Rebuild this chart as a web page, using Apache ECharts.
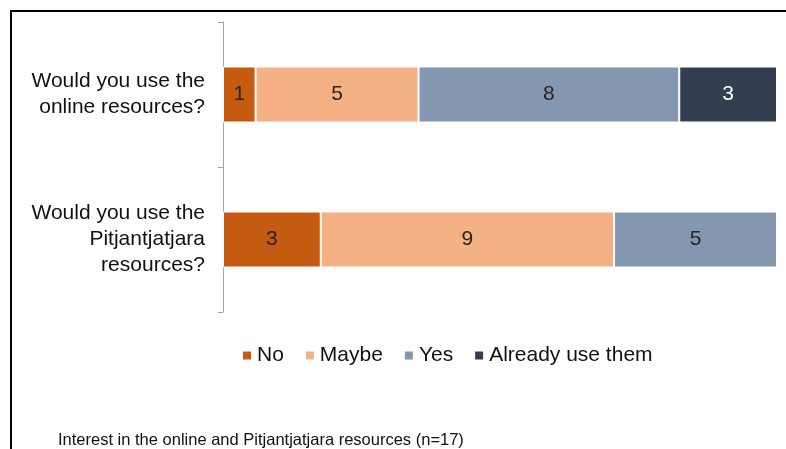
<!DOCTYPE html>
<html>
<head>
<meta charset="utf-8">
<script src="https://cdn.jsdelivr.net/npm/echarts@6/dist/echarts.min.js"></script>
<style>
    html, body {margin: 0; padding: 0; background: #fff;}
    #chart {width: 786px; height: 449px;}
    .frame {position: absolute; left: 10px; top: 10px; right: 0; bottom: 0;
        border-top: 2px solid #000; border-left: 2px solid #000; pointer-events: none;}
</style>
</head>
<body>
<div id="chart"></div>
<div class="frame"></div>
<script>
const questions = ['Would you use the\nonline resources?', 'Would you use the\nPitjantjatjara\nresources?'];
const answers = ['No', 'Maybe', 'Yes', 'Already use them'];
const noVals = [1, 3];
const maybeVals = [5, 9];
const yesVals = [8, 5];
const alreadyVals = [3, 0];
const colors = ['#C55A11', '#F4B183', '#8497B0', '#333F50'];

const font = 'Arial, "Liberation Sans", sans-serif';
const chart = echarts.init(document.getElementById('chart'));

const mk = (name, data, i) => ({
    name,
    type: 'bar',
    stack: 'all',
    barWidth: 56,
    data: data.map(v => v === 0 ? null : v),
    itemStyle: {color: colors[i], borderColor: '#fff', borderWidth: 1},
    label: {
        show: true,
        position: 'inside',
        fontFamily: font,
        fontSize: 21,
        color: i === 3 ? '#ffffff' : '#262626'
    }
});

chart.setOption({
    animation: false,
    grid: {left: 223, right: 9, top: 22, bottom: 137},
    xAxis: {
        type: 'value',
        min: 0,
        max: 17,
        show: false
    },
    yAxis: {
        type: 'category',
        inverse: true,
        data: questions,
        axisLine: {lineStyle: {color: '#a6a6a6'}},
        axisTick: {show: true, length: 5, lineStyle: {color: '#a6a6a6'}},
        axisLabel: {
            fontFamily: font,
            fontSize: 21,
            lineHeight: 26,
            color: '#111',
            align: 'right',
            margin: 18
        }
    },
    legend: {
        left: 236,
        top: 340,
        icon: 'rect',
        itemWidth: 10,
        itemHeight: 10,
        itemGap: 20,
        textStyle: {fontFamily: font, fontSize: 21, color: '#111'},
        data: answers
    },
    title: {
        text: 'Interest in the online and Pitjantjatjara resources (n=17)',
        left: 53,
        top: 427,
        textStyle: {fontFamily: font, fontSize: 16.5, fontWeight: 'normal', color: '#111'}
    },
    series: [
        mk(answers[0], noVals, 0),
        mk(answers[1], maybeVals, 1),
        mk(answers[2], yesVals, 2),
        mk(answers[3], alreadyVals, 3)
    ]
});
</script>
</body>
</html>
